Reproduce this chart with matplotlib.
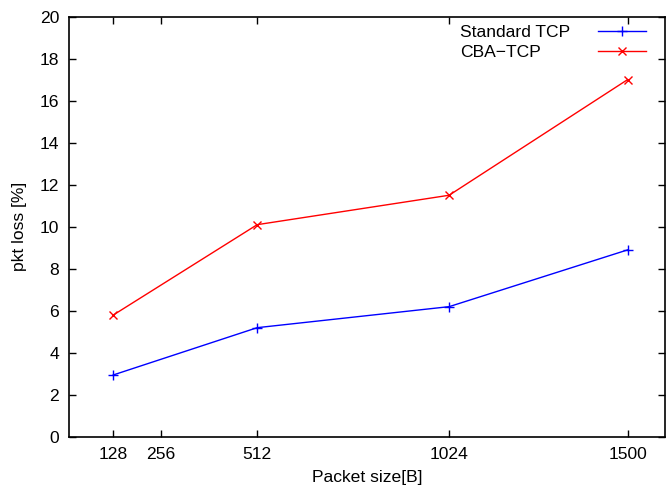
import matplotlib
matplotlib.use("Agg")
import matplotlib.pyplot as plt

packet_sizes = [128, 512, 1024, 1500]
standard_tcp = [2.95, 5.2, 6.2, 8.9]
cba_tcp = [5.8, 10.1, 11.5, 17.0]
series_labels = ['Standard TCP', 'CBA\u2212TCP']
x_ticks = [128, 256, 512, 1024, 1500]
y_ticks = [0, 2, 4, 6, 8, 10, 12, 14, 16, 18, 20]

FS = 12.6
plt.rcParams['font.family'] = ['Liberation Sans', 'DejaVu Sans']
fig = plt.figure(figsize=(6.66, 4.90), dpi=100)
ax = fig.add_axes([0.1036, 0.1082, 0.895, 0.858])

l1, = ax.plot(packet_sizes, standard_tcp, color='#0000ff', marker='+', markersize=7,
              linewidth=1, markeredgewidth=1, label=series_labels[0])
l2, = ax.plot(packet_sizes, cba_tcp, color='#ff0000', marker='x', markersize=6,
              linewidth=1, markeredgewidth=1, label=series_labels[1])

ax.set_xlim(10, 1600)
ax.set_ylim(0, 20)
ax.set_xticks(x_ticks)
ax.set_yticks(y_ticks)
ax.tick_params(direction='in', top=True, right=True, length=5, width=1,
               labelsize=FS, pad=7)
for s in ax.spines.values():
    s.set_linewidth(1.2)
ax.set_xlabel('Packet size[B]', fontsize=FS, va='center')
ax.set_ylabel('pkt loss [%]', fontsize=FS, va='center')
ax.xaxis.set_label_coords((367 - 69) / 596, (437 - 477) / 420)
ax.yaxis.set_label_coords((20 - 69) / 596, 0.5)

top = 1 - 25 / 490
common = dict(frameon=False, fontsize=FS, borderaxespad=0, borderpad=0,
              labelspacing=0.27, bbox_transform=fig.transFigure)
# text column (left aligned)
leg_text = ax.legend([l1, l2], series_labels, loc='upper left',
                     handlelength=0, handletextpad=0,
                     bbox_to_anchor=(460 / 666, top), **common)
for h in leg_text.legend_handles:
    h.set_visible(False)
ax.add_artist(leg_text)
# sample column
leg_lines = ax.legend([l1, l2], ['', ''], loc='upper right', markerfirst=False,
                      handlelength=2.75, handletextpad=0,
                      bbox_to_anchor=(646 / 666, top), **common)

fig.savefig('out.png', dpi=100)
